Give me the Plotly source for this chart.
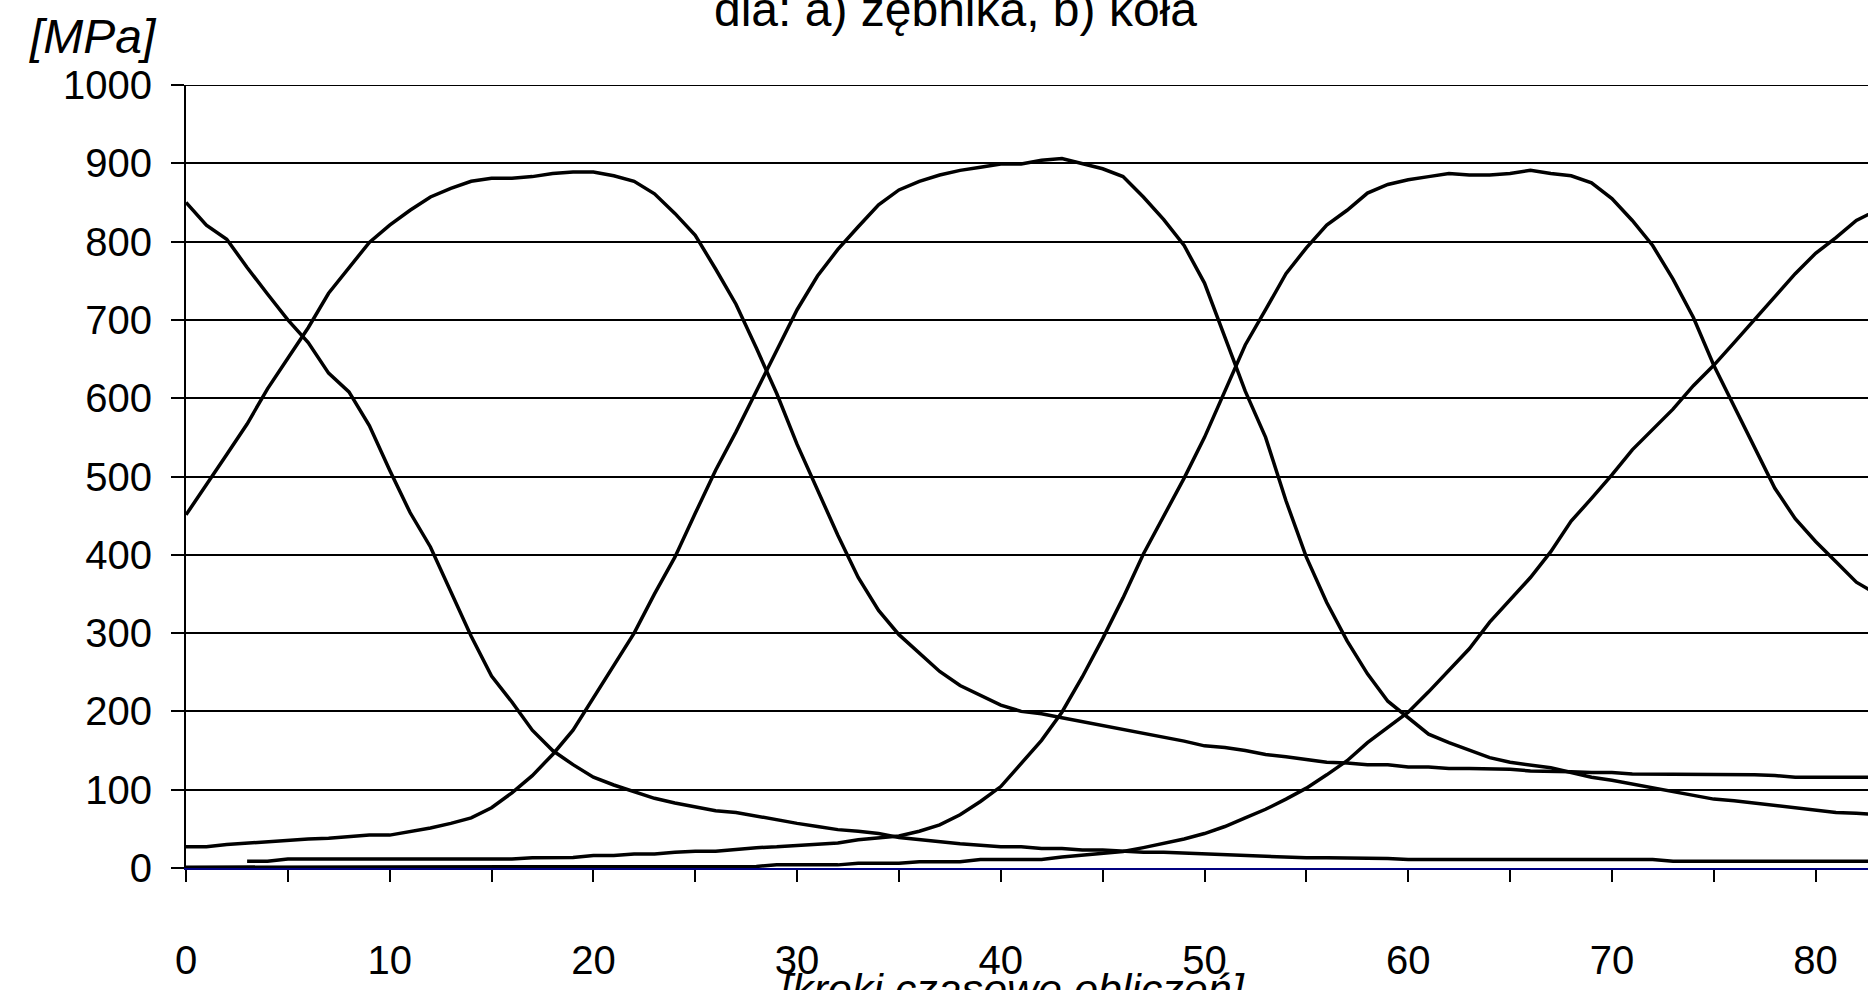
import plotly.graph_objects as go

steps = list(range(0, 84))

series_a = [850, 821, 803, 767, 733, 700, 671, 632, 608, 565,
            508, 454, 410, 353, 296, 245, 212, 176, 150, 132,
            116, 106, 98, 89, 83, 78, 73, 71, 66, 62,
            57, 53, 49, 47, 44, 39, 36, 33, 31, 29,
            27, 27, 25, 25, 23, 23, 21, 20, 20, 19,
            18, 17, 15, 15, 14, 13, 13, 13, 12, 12,
            11, 11, 11, 11, 11, 11, 11, 11, 11, 11,
            11, 11, 11, 8.5, 8.5, 8.5, 8.5, 8.5, 8.5, 8.5,
            8.5, 8.5, 8.5, 8.5]

series_b = [451, 489, 528, 567, 612, 651, 690, 734, 767, 799,
            821, 840, 857, 868, 877, 881, 881, 883, 887, 889,
            889, 884, 877, 861, 836, 808, 765, 720, 664, 606,
            541, 482, 425, 371, 329, 298, 274, 251, 233, 221,
            208, 200, 197, 192, 187, 182, 178, 173, 168, 162,
            156, 154, 150, 145, 142, 138, 135, 134, 132, 132,
            129, 129, 127, 127, 127, 126, 124, 124, 123, 122,
            122, 120, 120, 120, 119, 119, 119, 119, 118, 116,
            116, 116, 116, 116]

series_c = [27, 27, 30, 32, 34, 36, 37, 38, 40, 42,
            42, 46, 51, 57, 64, 77, 96, 118, 145, 176,
            217, 257, 300, 350, 397, 453, 508, 557, 609, 661,
            713, 756, 790, 819, 847, 866, 877, 885, 891, 895,
            899, 899, 904, 906, 899, 893, 883, 857, 828, 795,
            747, 678, 609, 550, 469, 397, 339, 290, 248, 213,
            192, 171, 160, 150, 141, 135, 132, 128, 122, 116,
            112, 107, 102, 98, 93, 88, 86, 83, 80, 78,
            74, 71, 70, 68]

series_d = [None, None, None, 8.5, 8.5, 11.5, 11.5, 11.5, 11.5, 11.5,
            11.5, 11.5, 11.5, 11.5, 11.5, 11.5, 11.5, 13, 13, 13.5,
            16, 16, 18, 18, 20, 21.5, 21.5, 24, 26, 27,
            29, 31, 32, 36, 39, 41, 47, 55, 68, 85,
            104, 134, 163, 199, 244, 293, 345, 401, 450, 498,
            550, 609, 668, 713, 759, 792, 821, 840, 862, 873,
            879, 883, 887, 885, 885, 887, 891, 887, 884, 875,
            855, 827, 795, 752, 703, 642, 590, 539, 485, 446,
            417, 391, 365, 350]

series_e = [1, 1, 1, 1, 1, 1, 1, 1, 1, 1,
            1, 1, 1, 1, 1, 1, 1, 1, 1, 1,
            1, 1, 1, 1, 1, 1, 1, 1, 2, 4,
            4, 4, 4, 6, 6, 6, 8, 8, 8, 11,
            11, 11, 11, 14, 16, 18, 21, 26, 31, 37,
            44, 53, 64, 75, 88, 102, 119, 137, 160, 179,
            199, 225, 252, 280, 314, 342, 371, 404, 443, 472,
            502, 534, 560, 586, 616, 642, 671, 700, 730, 759,
            785, 805, 827, 840]

x_tick_vals = list(range(0, 85, 5))
x_tick_text = [str(v) if v % 10 == 0 else "" for v in x_tick_vals]
y_tick_vals = list(range(0, 1001, 100))

title_text = "dla: a) zębnika, b) koła"
x_title = "[kroki czasowe obliczeń]"
y_title = "[MPa]"

FONT = "Arial, Liberation Sans, sans-serif"

fig = go.Figure()
for vals in [series_a, series_b, series_c, series_d, series_e]:
    fig.add_trace(go.Scatter(x=steps, y=vals, mode="lines",
                             line=dict(color="black", width=3.5),
                             connectgaps=False, showlegend=False,
                             hoverinfo="skip"))

W, H = 1868, 990
L, R, T, B = 186, 0, 85, 122

fig.update_layout(
    width=W, height=H, autosize=False,
    margin=dict(l=L, r=R, t=T, b=B, pad=0),
    paper_bgcolor="white", plot_bgcolor="white",
    font=dict(family=FONT, color="black", size=40),
    showlegend=False,
)

fig.update_xaxes(
    range=[0, (W - L - R) / 20.37],
    tickmode="array", tickvals=x_tick_vals, ticktext=x_tick_text,
    ticks="outside", ticklen=12, tickwidth=1.5, tickcolor="black",
    showline=True, linecolor="#000080", linewidth=2,
    showgrid=False, zeroline=False,
    tickfont=dict(family=FONT, size=40, color="black"),
    ticklabelstandoff=44,
    layer="below traces",
)

fig.update_yaxes(
    range=[0, 1000],
    tickmode="array", tickvals=y_tick_vals,
    ticks="outside", ticklen=13, tickwidth=1.5, tickcolor="black",
    showline=True, linecolor="black", linewidth=2,
    showgrid=True, gridcolor="black", gridwidth=1.5,
    zeroline=False,
    tickfont=dict(family=FONT, size=40, color="black"),
    ticklabelstandoff=11,
    layer="below traces",
)

fig.add_shape(type="line", xref="paper", yref="y", x0=0, x1=1, y0=1000, y1=1000,
              line=dict(color="black", width=2), layer="below")

def px_x(px):
    return (px - L) / (W - L - R)

def px_y(py):
    return (H - B - py) / (H - T - B)

fig.add_annotation(text="<i>" + y_title + "</i>", xref="paper", yref="paper",
                   x=px_x(93), y=px_y(37), xanchor="center", yanchor="middle",
                   showarrow=False, font=dict(family=FONT, size=48, color="black"))
fig.add_annotation(text="<i>" + x_title + "</i>", xref="paper", yref="paper",
                   x=px_x(1012), y=px_y(989), xanchor="center", yanchor="middle",
                   showarrow=False, font=dict(family=FONT, size=43, color="black"))
fig.add_annotation(text=title_text, xref="paper", yref="paper",
                   x=px_x(955), y=px_y(38), xanchor="center", yanchor="bottom",
                   showarrow=False, font=dict(family=FONT, size=48, color="black"))

fig.write_html("out.html", config={"displayModeBar": False},
               post_script="document.body.style.margin='0';document.body.style.overflow='hidden';")
